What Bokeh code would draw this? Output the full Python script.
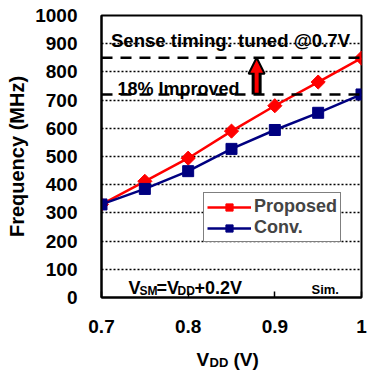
from bokeh.plotting import figure
from bokeh.layouts import column
from bokeh.models import (Range1d, FixedTicker, Span, Label, Arrow, NormalHead,
                          Legend, LegendItem)
from bokeh.embed import file_html
from bokeh.resources import INLINE
import math

# ---- data ----
vdd = [0.7, 0.75, 0.8, 0.85, 0.9, 0.95, 1.0]
proposed = [330, 412, 494, 590, 680, 764, 849]
conv = [330, 385, 448, 527, 594, 655, 720]
x_ticks = [0.7, 0.8, 0.9, 1.0]
x_tick_labels = {0.7: "0.7", 0.8: "0.8", 0.9: "0.9", 1.0: "1"}
y_ticks = list(range(0, 1001, 100))
ref_high = 850
ref_low = 720
arrow_x = 0.879

FONT = "Liberation Sans"
W = 367

p = figure(width=W, height=345, output_backend="svg", toolbar_location=None,
           x_range=Range1d(0.7, 1.0), y_range=Range1d(0, 1000),
           min_border_left=101, min_border_right=6, min_border_top=15,
           min_border_bottom=48)
p.background_fill_color = "white"
p.border_fill_color = "white"
p.outline_line_color = "black"
p.outline_line_width = 2

# axes
p.xaxis.ticker = FixedTicker(ticks=x_ticks)
p.xaxis.major_label_overrides = x_tick_labels
p.yaxis.ticker = FixedTicker(ticks=y_ticks)
for ax in (p.xaxis, p.yaxis):
    ax.axis_line_color = "black"
    ax.axis_line_width = 2
    ax.major_label_text_font = FONT
    ax.major_label_text_font_style = "bold"
    ax.major_label_text_font_size = "19px"
    ax.major_label_text_color = "black"
    ax.minor_tick_line_color = None
p.xaxis.major_tick_in = 6
p.xaxis.major_tick_out = 0
p.xaxis.major_tick_line_width = 1.5
p.xaxis.major_tick_line_color = "black"
p.xaxis.major_label_standoff = 22
p.yaxis.major_tick_in = 0
p.yaxis.major_tick_out = 0
p.yaxis.major_label_standoff = 24
p.yaxis.axis_label = "Frequency (MHz)"
p.yaxis.axis_label_text_font = FONT
p.yaxis.axis_label_text_font_style = "bold"
p.yaxis.axis_label_text_font_size = "20px"
p.yaxis.axis_label_text_color = "black"
p.yaxis.axis_label_standoff = 4

# grid
p.xgrid.grid_line_color = None
p.ygrid.ticker = FixedTicker(ticks=y_ticks)
p.ygrid.grid_line_color = "black"
p.ygrid.grid_line_dash = "2 2"
p.ygrid.grid_line_width = 1.5

# reference dashed lines
for loc in (ref_high, ref_low):
    p.add_layout(Span(location=loc, dimension="width", line_color="black",
                      line_width=2.5, line_dash="11 8"))

# series
l1 = p.line(vdd, proposed, line_color="red", line_width=2.5)
s1 = p.scatter(vdd, proposed, marker="square", angle=math.pi / 4, size=10,
               fill_color="red", line_color="red")
l2 = p.line(vdd, conv, line_color="#000080", line_width=2.5)
s2 = p.scatter(vdd, conv, marker="square", size=11,
               fill_color="#000080", line_color="#000080")

legend = Legend(items=[LegendItem(label="Proposed", renderers=[l1, s1]),
                       LegendItem(label="Conv.", renderers=[l2, s2])],
                location=(102, 55))
legend.label_text_font = FONT
legend.label_text_font_style = "bold"
legend.label_text_font_size = "18px"
legend.label_standoff = 3
legend.glyph_width = 44
legend.glyph_height = 18
legend.label_height = 18
legend.padding = 3
legend.spacing = 0
legend.margin = 0
legend.border_line_color = "black"
legend.border_line_width = 1.5
legend.background_fill_alpha = 1
p.add_layout(legend)

# arrow
p.add_layout(Arrow(x_start=arrow_x, y_start=ref_low, x_end=arrow_x, y_end=ref_high,
                   line_color="black", line_width=10,
                   end=NormalHead(size=16, fill_color="red", line_color="black",
                                  line_width=2)))
p.add_layout(Arrow(x_start=arrow_x, y_start=ref_low + 6, x_end=arrow_x, y_end=ref_high - 32,
                   line_color="red", line_width=4, end=None))


def txt(fig, s, x, y, dx, dy, size, align="left"):
    fig.add_layout(Label(x=x, y=y, x_offset=dx, y_offset=dy, text=s,
                         text_font=FONT, text_font_style="bold",
                         text_font_size=size, text_color="black",
                         text_align=align, text_baseline="alphabetic"))


# texts inside the frame (offsets in px from the bottom-left of the frame)
txt(p, "Sense timing: tuned @0.7V", 0.7, 0, 129, 257, "18.6px", align="center")
txt(p, "18% Improved", 0.7, 0, 16, 209, "18px")
txt(p, "V", 0.7, 0, 27, 10, "18px")
txt(p, "SM", 0.7, 0, 38, 7, "12px")
txt(p, "=V", 0.7, 0, 55, 10, "18px")
txt(p, "DD", 0.7, 0, 76, 7, "12px")
txt(p, "+0.2V", 0.7, 0, 93, 10, "18px")
txt(p, "Sim.", 0.7, 0, 210, 8, "13px")

# x axis label strip below, sharing the horizontal scale of the main plot
q = figure(width=W, height=27, output_backend="svg", toolbar_location=None,
           x_range=Range1d(0.7, 1.0), y_range=Range1d(0, 27),
           x_axis_location=None, y_axis_location=None,
           min_border_left=101, min_border_right=6, min_border_top=0,
           min_border_bottom=0)
q.outline_line_color = None
q.grid.grid_line_color = None
q.background_fill_color = "white"
q.border_fill_color = "white"
txt(q, "V", 0.7, 0, 95, 13, "19px")
txt(q, "DD", 0.7, 0, 108, 10, "13px")
txt(q, "(V)", 0.7, 0, 132, 13, "19px")

layout = column(p, q, spacing=0)
open("out.html", "w").write(file_html(layout, INLINE))
